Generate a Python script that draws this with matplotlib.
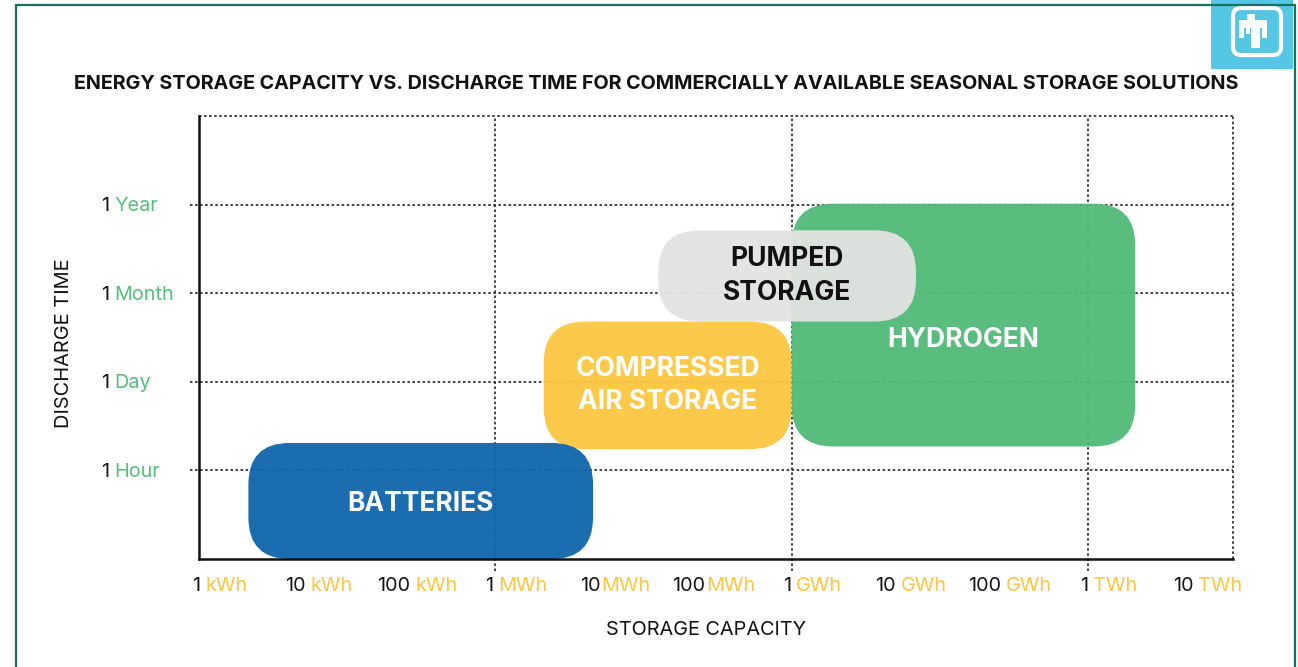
import re
import numpy as np
import matplotlib
matplotlib.use("Agg")
import matplotlib.pyplot as plt
from matplotlib.patches import FancyBboxPatch, Rectangle, Polygon
from matplotlib.offsetbox import TextArea, HPacker, AnnotationBbox

FONT = "Inter"
plt.rcParams['font.family'] = [FONT, 'DejaVu Sans']

# ---------------- data ----------------
title = ("ENERGY STORAGE CAPACITY VS. DISCHARGE TIME FOR COMMERCIALLY "
         "AVAILABLE SEASONAL STORAGE SOLUTIONS")
x_label = "STORAGE CAPACITY"
y_label = "DISCHARGE TIME"

capacity_kwh = [1, 10, 100, 1e3, 1e4, 1e5, 1e6, 1e7, 1e8, 1e9, 1e10]
capacity_labels = ["1 kWh", "10 kWh", "100 kWh", "1 MWh", "10MWh", "100MWh",
                   "1 GWh", "10 GWh", "100 GWh", "1 TWh", "10 TWh"]
capacity_gridlines_kwh = [1e3, 1e6, 1e9]
capacity_max_kwh = 10 ** 10.47

time_levels = [1, 2, 3, 4]
time_labels = ["1 Hour", "1 Day", "1 Month", "1 Year"]
time_max = 5

technologies = ["HYDROGEN", "COMPRESSED\nAIR STORAGE", "PUMPED\nSTORAGE", "BATTERIES"]
cap_low_kwh = [1e6, 10 ** 3.49, 10 ** 4.65, 10 ** 0.5]
cap_high_kwh = [10 ** 9.48, 1e6, 10 ** 7.26, 10 ** 3.99]
time_low = [1.27, 1.24, 2.68, 0.0]
time_high = [4.01, 2.68, 3.71, 1.31]
tech_colors = ["#4fba76", "#fcc641", "#e3e3e3", "#0f65ac"]
tech_text_colors = ["white", "white", "#111111", "white"]

# ---------------- figure ----------------
W, H = 1298, 667
fig = plt.figure(figsize=(W / 100, H / 100), dpi=100)
fig.patch.set_facecolor("white")


def fx(px):
    return px / W


def fy(py):
    return 1 - py / H


ax = fig.add_axes([fx(199), fy(559), fx(1233) - fx(199), fy(116) - fy(559)])
xmax = np.log10(capacity_max_kwh)
ax.set_xlim(0, xmax)
ax.set_ylim(0, time_max)
ax.set_xticks([])
ax.set_yticks([])
for s in ["top", "right"]:
    ax.spines[s].set_visible(False)
for s in ["left", "bottom"]:
    ax.spines[s].set_linewidth(1.8)
    ax.spines[s].set_color("#111111")
    ax.spines[s].set_zorder(5)

dot = dict(color="#333333", lw=1.3, linestyle=(0, (1.4, 1.4)), zorder=1, clip_on=False)
for lvl in time_levels:
    ax.axhline(lvl, xmin=-0.009, xmax=1, **dot)
ax.axhline(time_max, xmin=0, xmax=1, **dot)
for v in capacity_gridlines_kwh:
    ax.axvline(np.log10(v), ymin=-0.027, ymax=1, **dot)
ax.axvline(xmax, ymin=0, ymax=1, **dot)

# boxes
px_per_x = (1233 - 199) / xmax
px_per_y = (559 - 116) / time_max
aspect = px_per_x / px_per_y
label_nudge = {"HYDROGEN": -0.17, "BATTERIES": -0.03}
for name, lo, hi, t0, t1, c, tc in zip(technologies, cap_low_kwh, cap_high_kwh,
                                       time_low, time_high, tech_colors, tech_text_colors):
    x0, x1 = np.log10(lo), np.log10(hi)
    box = FancyBboxPatch((x0, t0), x1 - x0, t1 - t0,
                         boxstyle="round,pad=0,rounding_size=0.42",
                         mutation_aspect=aspect, facecolor=c, edgecolor="none",
                         alpha=0.95, zorder=2)
    ax.add_patch(box)
    ax.text((x0 + x1) / 2, (t0 + t1) / 2 + label_nudge.get(name, 0), name,
            ha="center", va="center", color=tc, fontsize=19, fontweight="bold",
            linespacing=1.38, zorder=3)


# tick labels (two-tone)
def split_label(s):
    m = re.match(r"(\d+)(\s?)(.*)", s)
    return m.group(1), m.group(2) != "", m.group(3)


def two_tone(s, unit_color, size):
    num, spaced, unit = split_label(s)
    a = TextArea(num, textprops=dict(color="#151515", fontsize=size))
    b = TextArea(unit, textprops=dict(color=unit_color, fontsize=size))
    return HPacker(children=[a, b], pad=0, sep=3.8 if spaced else 0.3, align="baseline")


for v, lab in zip(capacity_kwh, capacity_labels):
    ab = AnnotationBbox(two_tone(lab, "#fcc641", 14.3), (np.log10(v), 0),
                        xycoords=("data", "axes fraction"),
                        xybox=(21 * 0.72, -27 * 0.72), boxcoords="offset points",
                        box_alignment=(0.5, 0.5), frameon=False, annotation_clip=False)
    ax.add_artist(ab)

for lvl, lab in zip(time_levels, time_labels):
    ab = AnnotationBbox(two_tone(lab, "#56bf7b", 14.3), (fx(101), lvl),
                        xycoords=("figure fraction", "data"),
                        xybox=(0, -1.5 * 0.72), boxcoords="offset points",
                        box_alignment=(0, 0.5), frameon=False, annotation_clip=False)
    ax.add_artist(ab)

fig.text(fx(656), fy(84), title, ha="center", va="center", fontsize=14.2,
         fontweight="bold", color="#111111")
fig.text(fx(64), fy(343), y_label, ha="center", va="center", rotation=90,
         fontsize=14.4, color="#111111")
fig.text(fx(706), fy(630), x_label, ha="center", va="center", fontsize=14.3,
         color="#111111")

# logo
lax = fig.add_axes([fx(1211), fy(69), fx(1293) - fx(1211), fy(0) - fy(69)])
lax.set_xlim(0, 82)
lax.set_ylim(69, 0)
lax.axis("off")
lax.add_patch(Rectangle((0, 0), 82, 69, facecolor="#55c6e4", edgecolor="none"))
lax.add_patch(FancyBboxPatch((22, 8), 48, 47, boxstyle="round,pad=0,rounding_size=8",
                             facecolor="none", edgecolor="white", lw=3.0))
bird = [(36, 14), (44, 14), (44, 20), (56, 20), (56, 38), (51, 38), (51, 28),
        (49, 28), (49, 48), (40, 48), (40, 28), (39, 28), (39, 34), (35, 34),
        (35, 28), (33, 28), (33, 38), (28, 38), (28, 20), (36, 20)]
lax.add_patch(Polygon(bird, closed=True, facecolor="white", edgecolor="none"))

# border
fig.add_artist(Rectangle((fx(16), -0.05), fx(1295) - fx(16), fy(4.5) + 0.05,
                         transform=fig.transFigure, fill=False,
                         edgecolor="#18705f", lw=1.6, zorder=10))

fig.savefig("out.png", dpi=100)
